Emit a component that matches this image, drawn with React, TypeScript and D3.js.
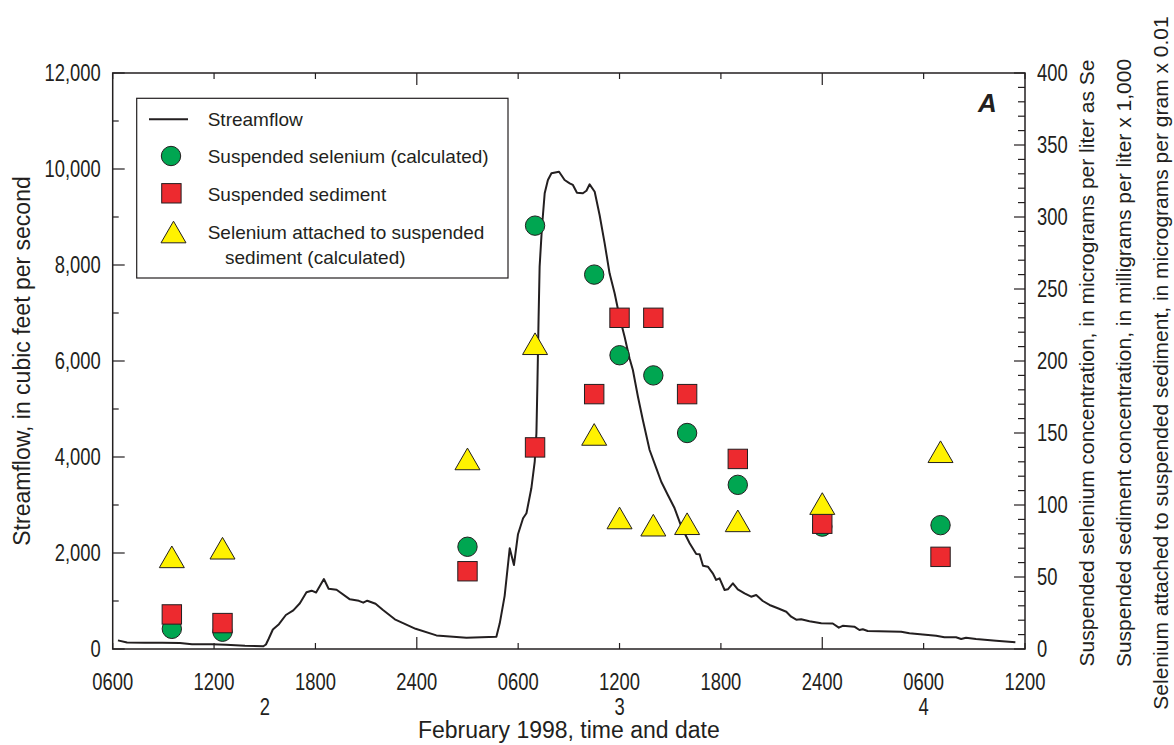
import React from "react";
import * as d3 from "d3";

const WIDTH = 1174;
const HEIGHT = 745;
const plot = { left: 112.7, right: 1025, top: 73, bottom: 649 };

const INK = "#231f20";
const FONT = "'Liberation Sans', Arial, Helvetica, sans-serif";

// Sampling times, in hours after 0000 on February 2, 1998
const sampleHours = [9.5, 12.5, 27, 31, 34.5, 36, 38, 40, 43, 48, 55];
// Suspended selenium (calculated), micrograms per liter as Se
const suspendedSelenium = [14, 12, 71, 294, 260, 204, 190, 150, 114, 85, 86];
// Suspended sediment, milligrams per liter x 1,000
const suspendedSediment = [24, 18, 54, 140, 177, 230, 230, 177, 132, 87, 64];
// Selenium attached to suspended sediment (calculated), micrograms per gram x 0.01
const attachedSelenium = [64, 70, 132, 212, 149, 91, 86, 87, 89, 101, 137];

// Streamflow record: hours after 0000 on February 2, 1998 and cubic feet per second
const flowHours = [
  6.31, 6.85, 7.91, 8.92, 9.98, 10.69, 11.87, 12.7, 13.83, 14.92, 15.07, 15.24, 15.48, 15.84,
  16.25, 16.69, 17.08, 17.47, 17.77, 18.04, 18.5, 18.78, 19.25, 20.04, 20.57, 20.83, 21.07,
  21.56, 22.0, 22.7, 23.93, 25.16, 26.94, 28.71, 28.91, 29.2, 29.5, 29.75, 29.99, 30.29, 30.49,
  30.78, 30.98, 31.08, 31.14, 31.21, 31.27, 31.41, 31.57, 31.76, 31.97, 32.42, 32.75, 33.05,
  33.24, 33.48, 33.83, 34.04, 34.23, 34.53, 34.82, 35.12, 35.41, 35.71, 36.0, 36.3, 36.59,
  36.79, 37.09, 37.38, 37.78, 38.18, 38.47, 38.86, 39.26, 39.66, 40.15, 40.54, 40.74, 40.94,
  41.23, 41.52, 41.72, 41.92, 42.22, 42.41, 42.71, 43.0, 43.4, 43.79, 44.09, 44.48, 44.88,
  45.37, 45.87, 46.16, 46.46, 46.75, 47.24, 47.94, 48.62, 48.98, 49.21, 49.9, 50.2, 50.4,
  50.69, 52.67, 53.16, 54.74, 55.23, 55.92, 56.22, 56.51, 57.1, 58.29, 59.43,
];
const flowCfs = [
  180, 135, 131, 131, 125, 100, 98, 90, 67, 56, 94, 219, 406, 517,
  708, 806, 952, 1181, 1215, 1177, 1458, 1256, 1235, 1035, 1004, 965, 1006,
  942, 812, 619, 421, 283, 235, 256, 535, 1108, 2098, 1750, 2392, 2723, 2827,
  3348, 3902, 4494, 5535, 6923, 7965, 8798, 9494, 9771, 9910, 9944, 9771, 9702,
  9667, 9506, 9494, 9548, 9681, 9527, 9042, 8452, 7827, 7410, 6923, 6506, 6056,
  5813, 5256, 4771, 4146, 3765, 3485, 3208, 2931, 2548, 2202, 1979, 1973, 1735,
  1715, 1577, 1438, 1473, 1229, 1244, 1369, 1244, 1160, 1090, 1125, 1000, 917,
  848, 777, 673, 610, 619, 577, 535, 531, 444, 483, 465, 396, 410,
  375, 360, 327, 277, 244, 244, 208, 235, 208, 173, 140,
];

// Day labels, placed at the middle of each day's visible span
const dayLabels = ["2", "3", "4"];
const dayLabelHours = [15, 36, 54];

const legendLabels = [
  "Streamflow",
  "Suspended selenium (calculated)",
  "Suspended sediment",
  "Selenium attached to suspended",
  "sediment (calculated)",
];

const rightTitles = [
  "Suspended selenium concentration, in micrograms per liter as Se",
  "Suspended sediment concentration, in milligrams per liter x 1,000",
  "Selenium attached to suspended sediment, in micrograms per gram x 0.01",
];

const COLORS = { green: "#00a651", red: "#ed2a2f", yellow: "#fff200" };

const t0 = new Date(1998, 1, 2, 0, 0);
const toDate = (h: number) => new Date(t0.getTime() + h * 3600 * 1000);

// Narrow numerals: horizontally compressed text drawn at (x, y)
const NUM_SIZE = 23;
const NUM_SX = 0.8;
function NumText(props: { x: number; y: number; anchor: "start" | "middle" | "end"; children: React.ReactNode }) {
  return (
    <text
      transform={`translate(${props.x},${props.y}) scale(${NUM_SX},1)`}
      textAnchor={props.anchor}
      fontSize={NUM_SIZE}
    >
      {props.children}
    </text>
  );
}

export default function App() {
  const x = d3
    .scaleTime()
    .domain([toDate(6), toDate(60)])
    .range([plot.left, plot.right]);
  const yFlow = d3.scaleLinear().domain([0, 12000]).range([plot.bottom, plot.top]);
  const yConc = d3.scaleLinear().domain([0, 400]).range([plot.bottom, plot.top]);

  const xTicks = x.ticks(d3.timeHour.every(6) as any);
  const fmtTime = (d: Date) => (d.getHours() === 0 ? "2400" : d3.timeFormat("%H%M")(d));
  const fmtFlow = d3.format(",");

  const line = d3
    .line<number>()
    .x((_, i) => x(toDate(flowHours[i])))
    .y((v) => yFlow(v));

  const triPath = (cx: number, cy: number, s: number) => {
    const h = (s * Math.sqrt(3)) / 2;
    return `M${cx},${cy - h / 2}L${cx + s / 2},${cy + h / 2}L${cx - s / 2},${cy + h / 2}Z`;
  };

  const midY = (plot.top + plot.bottom) / 2;
  const markerStroke = { stroke: INK, strokeWidth: 1 };

  return (
    <svg
      width={WIDTH}
      height={HEIGHT}
      style={{ position: "absolute", left: 0, top: 0, background: "#fff" }}
      fontFamily={FONT}
      fill={INK}
    >
      {/* bottom and top time ticks */}
      {xTicks.map((d, i) => {
        const long = d.getHours() === 0;
        const len = long ? 12 : 6;
        const px = x(d);
        return (
          <g key={"xt" + i}>
            <line x1={px} x2={px} y1={plot.bottom} y2={plot.bottom - len} stroke={INK} strokeWidth={1.2} />
            <line x1={px} x2={px} y1={plot.top} y2={plot.top + len} stroke={INK} strokeWidth={1.2} />
            <NumText x={px} y={plot.bottom + 41} anchor="middle">
              {fmtTime(d)}
            </NumText>
          </g>
        );
      })}
      {dayLabels.map((lab, i) => (
        <NumText key={"day" + i} x={x(toDate(dayLabelHours[i]))} y={plot.bottom + 65.5} anchor="middle">
          {lab}
        </NumText>
      ))}
      <text x={(plot.left + plot.right) / 2} y={plot.bottom + 89} textAnchor="middle" fontSize={23}>
        February 1998, time and date
      </text>

      {/* left axis */}
      {yFlow.ticks(12).map((v, i) => {
        const major = v % 2000 === 0;
        const py = yFlow(v);
        return (
          <g key={"yl" + i}>
            <line x1={plot.left} x2={plot.left + (major ? 12 : 6)} y1={py} y2={py} stroke={INK} strokeWidth={1.2} />
            {major && (
              <NumText x={plot.left - 12} y={py + 8.2} anchor="end">
                {fmtFlow(v)}
              </NumText>
            )}
          </g>
        );
      })}
      <text transform={`translate(30,${midY}) rotate(-90)`} textAnchor="middle" fontSize={23}>
        Streamflow, in cubic feet per second
      </text>

      {/* right axis */}
      {yConc.ticks(40).map((v, i) => {
        const major = v % 50 === 0;
        const py = yConc(v);
        return (
          <g key={"yr" + i}>
            <line x1={plot.right} x2={plot.right - (major ? 11 : 7)} y1={py} y2={py} stroke={INK} strokeWidth={1.2} />
            {major && (
              <NumText x={plot.right + 12} y={py + 8.2} anchor="start">
                {v}
              </NumText>
            )}
          </g>
        );
      })}
      {rightTitles.map((t, i) => (
        <text
          key={"rt" + i}
          transform={`translate(${1094 + i * 37},${midY + 2}) rotate(-90)`}
          textAnchor="middle"
          fontSize={21}
        >
          {t}
        </text>
      ))}

      {/* streamflow */}
      <path d={line(flowCfs) || ""} fill="none" stroke={INK} strokeWidth={2} strokeLinejoin="round" />

      {/* samples */}
      {suspendedSelenium.map((v, i) => (
        <circle key={"c" + i} cx={x(toDate(sampleHours[i]))} cy={yConc(v)} r={9.7} fill={COLORS.green} {...markerStroke} />
      ))}
      {suspendedSediment.map((v, i) => (
        <rect
          key={"s" + i}
          x={x(toDate(sampleHours[i])) - 9.7}
          y={yConc(v) - 9.7}
          width={19.4}
          height={19.4}
          fill={COLORS.red}
          {...markerStroke}
        />
      ))}
      {attachedSelenium.map((v, i) => (
        <path key={"t" + i} d={triPath(x(toDate(sampleHours[i])), yConc(v), 25)} fill={COLORS.yellow} {...markerStroke} />
      ))}

      {/* frame */}
      <rect
        x={plot.left}
        y={plot.top}
        width={plot.right - plot.left}
        height={plot.bottom - plot.top}
        fill="none"
        stroke={INK}
        strokeWidth={1.5}
      />

      <text x={978} y={112} fontSize={26} fontWeight="bold" fontStyle="italic">
        A
      </text>

      {/* legend */}
      <g>
        <rect x={136.7} y={98.3} width={371.3} height={179.7} fill="#fff" stroke={INK} strokeWidth={1.2} />
        <line x1={149} x2={188} y1={119.3} y2={119.3} stroke={INK} strokeWidth={2} />
        <circle cx={171} cy={156} r={9.7} fill={COLORS.green} {...markerStroke} />
        <rect x={161.7} y={183.6} width={19.4} height={19.4} fill={COLORS.red} {...markerStroke} />
        <path d={triPath(173.5, 232, 25)} fill={COLORS.yellow} {...markerStroke} />
        <text x={207.7} y={126} fontSize={19}>{legendLabels[0]}</text>
        <text x={207.7} y={163} fontSize={19}>{legendLabels[1]}</text>
        <text x={207.7} y={201} fontSize={19}>{legendLabels[2]}</text>
        <text x={207.7} y={239} fontSize={19}>{legendLabels[3]}</text>
        <text x={225} y={264} fontSize={19}>{legendLabels[4]}</text>
      </g>
    </svg>
  );
}
